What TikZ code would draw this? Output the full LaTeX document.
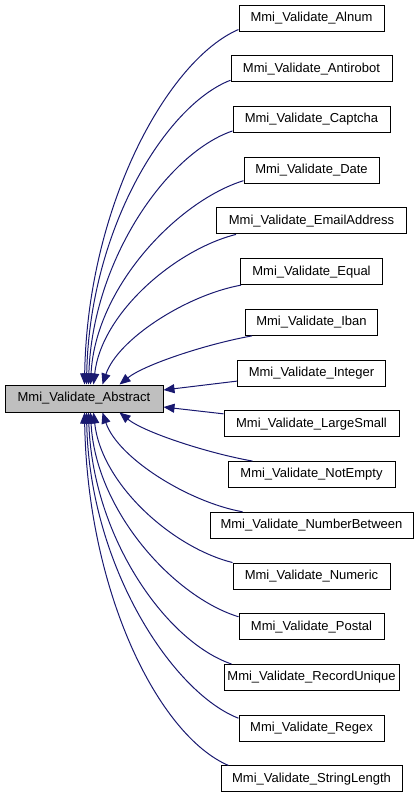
\documentclass[tikz,border=0pt]{standalone}
\usepackage{fontspec}
\setmainfont{Liberation Sans}
\usetikzlibrary{arrows.meta}

\definecolor{edgeblue}{HTML}{191970}
\definecolor{basegray}{HTML}{BFBFBF}

\begin{document}
\begin{tikzpicture}[x=0.75pt, y=-0.75pt, font=\fontsize{9.75}{11}\selectfont,
    cls/.style={draw=black, line width=0.75pt, inner sep=0pt, minimum height=19.5pt},
    inh/.style={edgeblue, line width=0.75pt, -{Triangle[length=8.25pt, width=6.75pt]}}]
  \useasboundingbox (0,0) rectangle (419,797);
  % base class
  \node[cls, fill=basegray, minimum width=118.5pt, minimum height=20.25pt] (abs) at (84,398.5) {Mmi\_Validate\_Abstract};
  % derived classes (one row each, 1 unit = 1 px)
  \foreach \n/\w [count=\i from 0] in {Alnum/145, Antirobot/161, Captcha/157, Date/135,
      EmailAddress/190, Equal/142, Iban/132, Integer/148, LargeSmall/175, NotEmpty/167,
      NumberBetween/203, Numeric/157, Postal/145, RecordUnique/175, Regex/145, StringLength/181}{
    \node[cls, fill=white, minimum width=\w*0.75pt] (\n) at (311.5, 18+50.73*\i) {Mmi\_Validate\_\n};
  }
  % edges into the top of the base class
  \draw[inh] ([shift={(0,-2)}]Alnum.south west) .. controls +(-70,30) and +(3,-180) .. ([shift={(80,0)}]abs.north west);
  \draw[inh] ([shift={(0,-2)}]Antirobot.south west) .. controls +(-65,25) and +(3,-155) .. ([shift={(82,0)}]abs.north west);
  \draw[inh] ([shift={(0,-2)}]Captcha.south west) .. controls +(-65,22) and +(4,-125) .. ([shift={(84,0)}]abs.north west);
  \draw[inh] ([shift={(0,-3)}]Date.south west) .. controls +(-65,20) and +(5,-98) .. ([shift={(86,0)}]abs.north west);
  \draw[inh] ([shift={(20,0)}]EmailAddress.south west) .. controls +(-60,15) and +(8,-72) .. ([shift={(89,0)}]abs.north west);
  \draw[inh] ([shift={(1,0)}]Equal.south west) .. controls +(-55,10) and +(15,-45) .. ([shift={(98,0)}]abs.north west);
  \draw[inh] ([shift={(7,0)}]Iban.south west) .. controls +(-45,8) and +(25,-20) .. ([shift={(115,0)}]abs.north west);
  % straight edges into the right side
  \draw[inh] ([shift={(0,8)}]Integer.west) -- ([shift={(0,-8.5)}]abs.east);
  \draw[inh] ([shift={(0,-10)}]LargeSmall.west) -- ([shift={(0,8.5)}]abs.east);
  % edges into the bottom of the base class
  \draw[inh] ([shift={(25,0)}]NotEmpty.north west) .. controls +(-45,-8) and +(25,20) .. ([shift={(115,0)}]abs.south west);
  \draw[inh] ([shift={(33,0)}]NumberBetween.north west) .. controls +(-55,-10) and +(15,45) .. ([shift={(98,0)}]abs.south west);
  \draw[inh] (Numeric.north west) .. controls +(-60,-15) and +(8,72) .. ([shift={(89,0)}]abs.south west);
  \draw[inh] ([shift={(0,-10)}]Postal.west) .. controls +(-65,-20) and +(5,98) .. ([shift={(86,0)}]abs.south west);
  \draw[inh] ([shift={(8,0)}]RecordUnique.north west) .. controls +(-65,-22) and +(4,125) .. ([shift={(84,0)}]abs.south west);
  \draw[inh] ([shift={(0,-10)}]Regex.west) .. controls +(-65,-25) and +(3,155) .. ([shift={(82,0)}]abs.south west);
  \draw[inh] ([shift={(8,0)}]StringLength.north west) .. controls +(-70,-30) and +(3,180) .. ([shift={(80,0)}]abs.south west);
\end{tikzpicture}
\end{document}
